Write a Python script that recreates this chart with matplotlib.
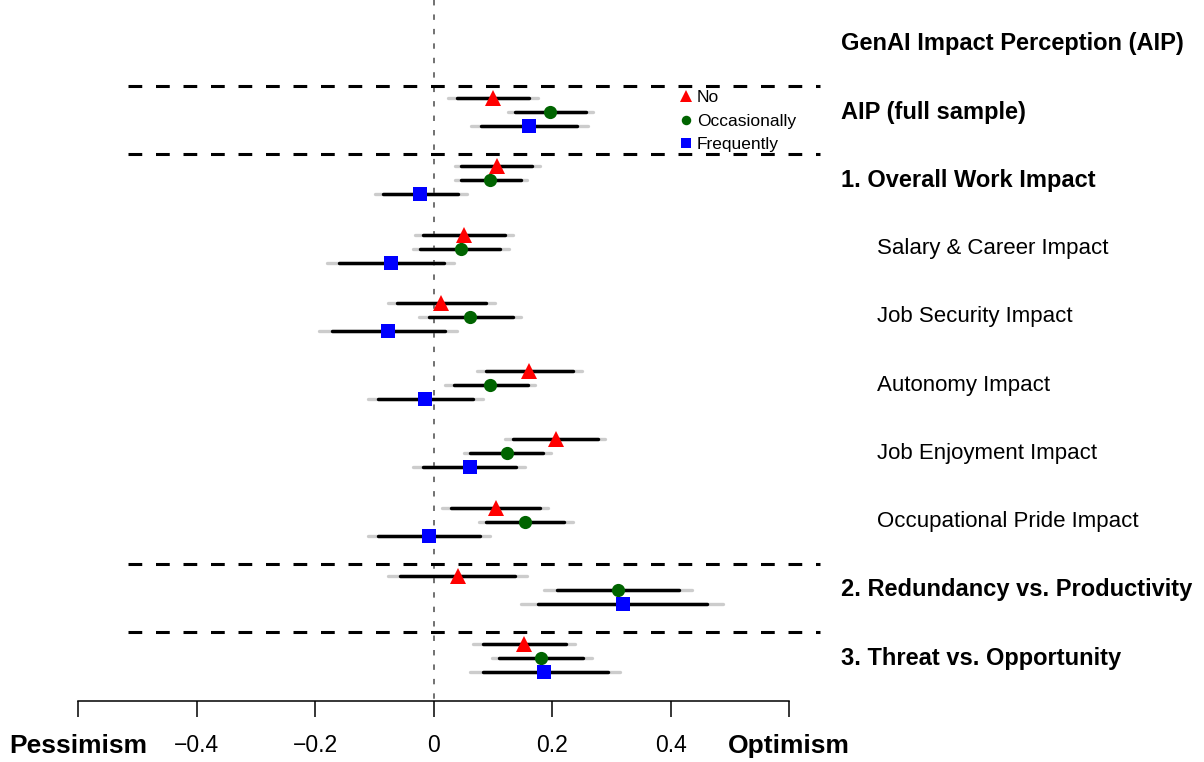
import matplotlib.pyplot as plt
from matplotlib.lines import Line2D
import numpy as np

plt.rcParams['font.family'] = ['Liberation Sans', 'DejaVu Sans']

# row labels (top to bottom), bold flag
labels = ['AIP (full sample)', '1. Overall Work Impact', 'Salary & Career Impact',
          'Job Security Impact', 'Autonomy Impact', 'Job Enjoyment Impact',
          'Occupational Pride Impact', '2. Redundancy vs. Productivity',
          '3. Threat vs. Opportunity']
bold = [True, True, False, False, False, False, False, True, True]

groups = ['No', 'Occasionally', 'Frequently']

# point estimates per usage group
est_no = [0.100, 0.108, 0.051, 0.012, 0.162, 0.206, 0.105, 0.041, 0.152]
est_occ = [0.197, 0.096, 0.046, 0.062, 0.096, 0.124, 0.155, 0.312, 0.182]
est_freq = [0.162, -0.022, -0.071, -0.076, -0.014, 0.061, -0.007, 0.319, 0.187]

# inner (black) intervals
lo_in_no = [0.039, 0.047, -0.017, -0.061, 0.089, 0.135, 0.030, -0.056, 0.083]
hi_in_no = [0.162, 0.167, 0.120, 0.088, 0.236, 0.277, 0.179, 0.137, 0.224]
lo_in_occ = [0.137, 0.047, -0.022, -0.008, 0.034, 0.062, 0.089, 0.209, 0.111]
hi_in_occ = [0.258, 0.147, 0.113, 0.135, 0.160, 0.185, 0.221, 0.415, 0.253]
lo_in_freq = [0.081, -0.086, -0.160, -0.172, -0.093, -0.018, -0.093, 0.176, 0.083]
hi_in_freq = [0.243, 0.042, 0.017, 0.020, 0.066, 0.140, 0.079, 0.461, 0.294]

# outer (grey) intervals
lo_out_no = [0.025, 0.036, -0.032, -0.076, 0.074, 0.121, 0.015, -0.076, 0.067]
hi_out_no = [0.176, 0.179, 0.135, 0.103, 0.251, 0.290, 0.194, 0.157, 0.238]
lo_out_occ = [0.125, 0.037, -0.035, -0.024, 0.020, 0.051, 0.076, 0.187, 0.098]
hi_out_occ = [0.270, 0.157, 0.127, 0.148, 0.172, 0.199, 0.235, 0.437, 0.268]
lo_out_freq = [0.064, -0.098, -0.179, -0.194, -0.110, -0.034, -0.110, 0.147, 0.061]
hi_out_freq = [0.260, 0.056, 0.035, 0.040, 0.083, 0.155, 0.096, 0.489, 0.314]

xticks = [-0.6, -0.4, -0.2, 0, 0.2, 0.4, 0.6]
xticklabels = ['Pessimism', '\u22120.4', '\u22120.2', '0', '0.2', '0.4', 'Optimism']

series = [
    (est_no, lo_in_no, hi_in_no, lo_out_no, hi_out_no, '^', 'red', 11.5),
    (est_occ, lo_in_occ, hi_in_occ, lo_out_occ, hi_out_occ, 'o', '#006400', 9.5),
    (est_freq, lo_in_freq, hi_in_freq, lo_out_freq, hi_out_freq, 's', 'blue', 10),
]
offsets = [-0.205, 0.0, 0.205]

fig = plt.figure(figsize=(12.04, 7.62), dpi=100)
ax = fig.add_axes([78 / 1204, 61 / 762, (789 - 78) / 1204, 701 / 762])
ax.set_xlim(-0.6, 0.6)
ax.set_ylim(9.63, -0.644)

ypos = np.arange(1, len(labels) + 1)

# zero reference line
ax.vlines(0, -0.644, 9.6, colors='#666666', linestyles=(0, (3, 5)), lw=1.3, zorder=1)

for (est, li, hi, lo2, hi2, mk, col, ms), off in zip(series, offsets):
    y = ypos + off
    ax.hlines(y, lo2, hi2, colors='#cccccc', lw=2.4, zorder=2, capstyle='round')
    ax.hlines(y, li, hi, colors='black', lw=2.5, zorder=3, capstyle='round')
    ax.plot(est, y, linestyle='none', marker=mk, color=col, ms=ms, mew=0, zorder=4)

# section separators
for yy in [1 - 0.38, 2 - 0.38, 8 - 0.38, 9 - 0.38]:
    ax.plot([-0.516, 0.653], [yy, yy], color='black', lw=2.2,
            linestyle=(0, (4.5, 4.5)), clip_on=False, zorder=2)

ax.text(0.687, 0, 'GenAI Impact Perception (AIP)', fontsize=17,
        fontweight='bold', va='center', ha='left', clip_on=False)
for yy, lab, b in zip(ypos, labels, bold):
    ax.text(0.687 if b else 0.749, yy, lab, fontsize=17 if b else 16,
            fontweight='bold' if b else 'normal', va='center', ha='left',
            clip_on=False)

for s in ['top', 'left', 'right']:
    ax.spines[s].set_visible(False)
ax.spines['bottom'].set_linewidth(1.1)
ax.set_yticks([])
ax.set_xticks(xticks)
ax.set_xticklabels(xticklabels, fontsize=16.5)
ax.tick_params(axis='x', length=11.5, width=1.1, pad=12)
for t in [ax.get_xticklabels()[0], ax.get_xticklabels()[-1]]:
    t.set_fontweight('bold')
    t.set_fontsize(19)

handles = [Line2D([], [], linestyle='none', marker=s[5], color=s[6],
                  ms=s[7] * 0.72, mew=0, label=g) for s, g in zip(series, groups)]
ax.legend(handles=handles, loc='upper left', bbox_to_anchor=(0.418, 0.675),
          bbox_transform=ax.transData, frameon=False, fontsize=12.5,
          handlelength=0.6, handletextpad=0.3, labelspacing=0.48, borderpad=0,
          borderaxespad=0)

fig.savefig('out.png', dpi=100)
